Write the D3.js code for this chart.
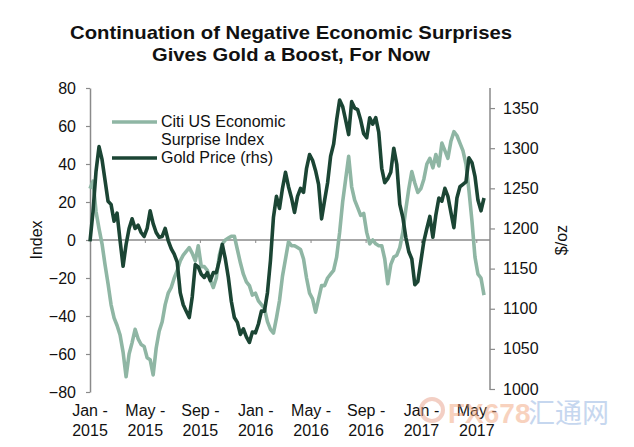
<!DOCTYPE html>
<html><head><meta charset="utf-8">
<script src="https://cdn.jsdelivr.net/npm/d3@7"></script>
<style>body{margin:0;background:#fff}svg{display:block}text{font-family:"Liberation Sans",Arial,Helvetica,sans-serif;fill:#111}</style>
</head><body><svg id="c" width="634" height="447"></svg>
<script>
const weeks = d3.range(132);
const esi = [27,31,15,6,-2,-13,-23,-34,-41,-45,-50,-59,-72,-60,-54,-47,-52,-55,-56,-62,-63,-71,-57,-48,-43,-34,-28,-25,-20,-16,-11,-8,-6,-4,-7,-11,-3,-14,-14,-16,-21,-25,-20,-8,-2,0,1,2,2,-5,-12,-18,-22,-24,-29,-28,-32,-34,-36,-43,-47,-49,-41,-32,-19,-10,-1,-3,-3,-4,-5,-10,-20,-28,-31,-38,-31,-24,-24,-20,-18,-16,-9,4,20,32,44,28,21,17,13,14,4,-2,0,-2,-3,-3,-10,-23,-13,-9,-8,-4,4,16,27,36,30,25,27,32,40,43,38,45,39,51,47,43,52,57,55,51,47,40,26,10,-9,-18,-20,-29];
const gold = [1184,1221,1271,1302,1286,1260,1234,1230,1209,1219,1185,1153,1180,1200,1212,1200,1204,1195,1190,1200,1222,1206,1195,1189,1190,1200,1185,1175,1168,1158,1120,1105,1097,1089,1115,1155,1152,1143,1139,1145,1135,1145,1145,1160,1180,1162,1139,1109,1089,1083,1068,1075,1065,1058,1071,1070,1081,1097,1097,1120,1160,1214,1240,1225,1250,1270,1252,1238,1220,1240,1250,1245,1275,1292,1285,1272,1255,1212,1235,1257,1290,1305,1335,1360,1352,1335,1317,1358,1350,1348,1335,1318,1313,1338,1330,1338,1320,1275,1257,1262,1270,1300,1280,1230,1214,1189,1171,1162,1130,1134,1159,1184,1200,1215,1189,1217,1238,1234,1250,1240,1220,1201,1238,1252,1255,1258,1288,1282,1265,1235,1222,1238];
const labelWeeks = [0, 18.4, 36.7, 55.1, 73.5, 91.8, 110.2, 128.6];
const labelMonths = ["Jan -","May -","Sep -","Jan -","May -","Sep -","Jan -","May -"];
const labelYears = ["2015","2015","2015","2016","2016","2016","2017","2017"];
const leftTicks = [-80,-60,-40,-20,0,20,40,60,80];
const rightTicks = [1000,1050,1100,1150,1200,1250,1300,1350];
const seriesNames = ["Citi US Economic|Surprise Index", "Gold Price (rhs)"];
const colors = ["#8fb6a4", "#1b4534"];

const svg = d3.select("#c");
const x = d3.scaleLinear().domain([0,131]).range([90,484]);
const yL = d3.scaleLinear().domain([-80,80]).range([392,88]);
const yR = d3.scaleLinear().domain([1000,1375]).range([389,88]);

// title
svg.append("text").attr("x",291).attr("y",39).attr("text-anchor","middle")
  .style("font-weight","bold").style("font-size","19px")
  .attr("textLength",442).attr("lengthAdjust","spacingAndGlyphs")
  .text("Continuation of Negative Economic Surprises");
svg.append("text").attr("x",291).attr("y",61).attr("text-anchor","middle")
  .style("font-weight","bold").style("font-size","19px")
  .attr("textLength",278).attr("lengthAdjust","spacingAndGlyphs")
  .text("Gives Gold a Boost, For Now");

// axes
const gl = svg.append("g").attr("transform","translate(90,0)")
  .call(d3.axisLeft(yL).tickValues(leftTicks).tickSize(4).tickSizeOuter(0).tickPadding(10));
const gr = svg.append("g").attr("transform","translate(490,0)")
  .call(d3.axisRight(yR).tickValues(rightTicks).tickFormat(d3.format("d")).tickSize(5).tickSizeOuter(0).tickPadding(8));
[gl,gr].forEach(g=>{
  g.select(".domain").attr("stroke","#8a8a8a").attr("stroke-width",1.5);
  g.selectAll(".tick line").attr("stroke","#8a8a8a").attr("stroke-width",1.2);
  g.selectAll(".tick text").style("font-size","16px").attr("fill","#111");
});
gr.select(".domain").attr("d", `M0,${yR(1375)}V${yR(1000)+1}`);

// zero line (category axis)
svg.append("line").attr("x1",90).attr("x2",490).attr("y1",yL(0)).attr("y2",yL(0))
  .attr("stroke","#8a8a8a").attr("stroke-width",1.5);
svg.selectAll(".zt").data(labelWeeks.slice(1)).enter().append("line")
  .attr("x1",d=>x(d)).attr("x2",d=>x(d)).attr("y1",yL(0)).attr("y2",yL(0)+3)
  .attr("stroke","#8a8a8a").attr("stroke-width",1);

// axis titles
svg.append("text").attr("transform",`translate(42,${yL(0)}) rotate(-90)`).attr("text-anchor","middle")
  .style("font-size","16px").text("Index");
svg.append("text").attr("transform",`translate(567,${yL(0)}) rotate(-90)`).attr("text-anchor","middle")
  .style("font-size","16px").text("$/oz");

// x labels
const xl = svg.selectAll(".xl").data(labelWeeks).enter().append("text")
  .attr("text-anchor","middle").style("font-size","16px");
xl.append("tspan").attr("x",d=>x(d)).attr("y",416).text((d,i)=>labelMonths[i]);
xl.append("tspan").attr("x",d=>x(d)).attr("y",436).text((d,i)=>labelYears[i]);

// lines
const lineL = d3.line().x((d,i)=>x(weeks[i])).y(d=>yL(d));
const lineR = d3.line().x((d,i)=>x(weeks[i])).y(d=>yR(d));
svg.append("path").datum(esi).attr("d",lineL).attr("fill","none").attr("stroke",colors[0])
  .attr("stroke-width",3.6).attr("stroke-linejoin","round");
svg.append("path").datum(gold).attr("d",lineR).attr("fill","none").attr("stroke",colors[1])
  .attr("stroke-width",3.6).attr("stroke-linejoin","round");

// legend
const lg = svg.append("g");
lg.append("line").attr("x1",112).attr("x2",157).attr("y1",122).attr("y2",122).attr("stroke",colors[0]).attr("stroke-width",3.6);
lg.append("line").attr("x1",112).attr("x2",157).attr("y1",158).attr("y2",158).attr("stroke",colors[1]).attr("stroke-width",3.6);
const parts = seriesNames[0].split("|");
lg.append("text").attr("x",161).attr("y",127).style("font-size","16px").text(parts[0]);
lg.append("text").attr("x",161).attr("y",145).style("font-size","16px").text(parts[1]);
lg.append("text").attr("x",161).attr("y",163).style("font-size","16px").text(seriesNames[1]);

// watermark
const wm = svg.append("g").attr("opacity",0.5);
wm.append("circle").attr("cx",432).attr("cy",410).attr("r",11).attr("fill","none").attr("stroke","#e8a08a").attr("stroke-width",4);
wm.append("text").attr("x",448).attr("y",423).style("font-size","28px").style("font-weight","bold").style("fill","#f2a77f").text("FX678");
wm.append("text").attr("x",528).attr("y",423).style("font-size","27px").style("font-family","'Noto Sans CJK SC'").style("fill","#8fb0e0").text("汇通网");
</script></body></html>
